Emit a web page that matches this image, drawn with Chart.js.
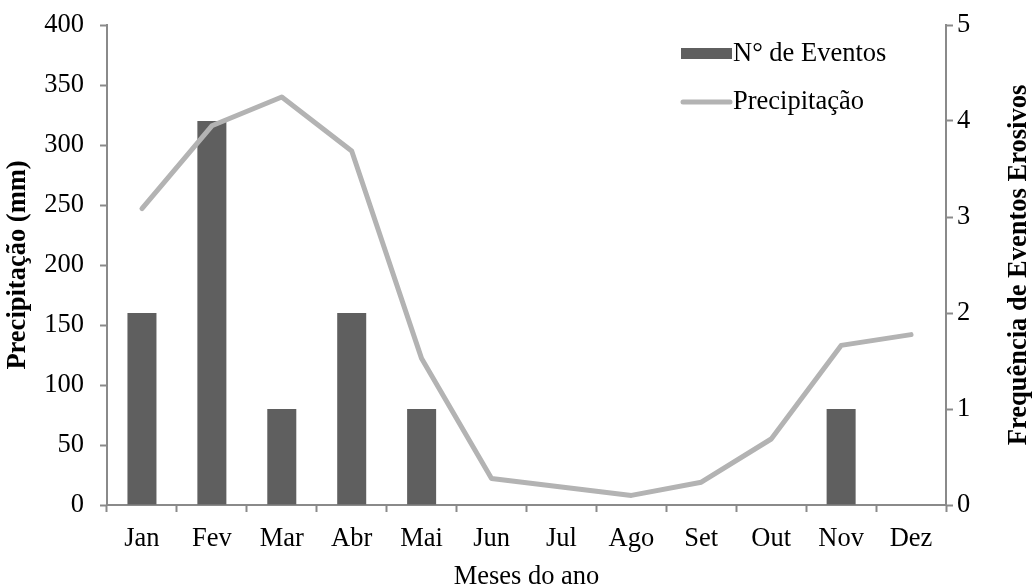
<!DOCTYPE html>
<html>
<head>
<meta charset="utf-8">
<script src="https://cdn.jsdelivr.net/npm/chart.js@4/dist/chart.umd.min.js"></script>
<style>
  html, body { margin: 0; padding: 0; background: #fff; }
  #wrap { width: 1032px; height: 586px; }
</style>
</head>
<body>
<div id="wrap"><canvas id="c" width="1032" height="586"></canvas></div>
<script>
// Monthly rainfall (mm) and number of erosive events
const meses = ['Jan', 'Fev', 'Mar', 'Abr', 'Mai', 'Jun', 'Jul', 'Ago', 'Set', 'Out', 'Nov', 'Dez'];
const precipitacao = [247, 316, 340, 295, 122, 22, 15, 8, 19, 55, 133, 142];
const eventos = [2, 4, 1, 2, 1, 0, 0, 0, 0, 0, 1, 0];
const ticksPrecipitacao = [0, 50, 100, 150, 200, 250, 300, 350, 400];
const ticksEventos = [0, 1, 2, 3, 4, 5];

const SERIF = '"Liberation Serif", "Times New Roman", serif';
const FS = 26.5;
const AXIS = '#8a8a8a';
const BAR = '#5f5f5f';
const LINE = '#b3b3b3';

// Legend in the upper right of the plot, plus the right-hand axis title read bottom-to-top
const extras = {
  id: 'extras',
  afterDraw(chart) {
    const ctx = chart.ctx;
    ctx.save();
    ctx.font = FS + 'px ' + SERIF;
    ctx.textBaseline = 'middle';
    ctx.textAlign = 'left';
    // bar swatch
    ctx.fillStyle = BAR;
    ctx.fillRect(681, 48, 51, 11);
    ctx.fillStyle = '#000';
    ctx.fillText(chart.data.datasets[0].label, 733, 54);
    // line swatch
    ctx.strokeStyle = LINE;
    ctx.lineWidth = 5;
    ctx.lineCap = 'round';
    ctx.beginPath();
    ctx.moveTo(683, 102);
    ctx.lineTo(730, 102);
    ctx.stroke();
    ctx.fillText(chart.data.datasets[1].label, 733, 102);

    // right axis title
    ctx.font = 'bold ' + FS + 'px ' + SERIF;
    ctx.textAlign = 'center';
    ctx.translate(1019, (chart.chartArea.top + chart.chartArea.bottom) / 2);
    ctx.rotate(-Math.PI / 2);
    ctx.fillText('Frequência de Eventos Erosivos', 0, 0);
    ctx.restore();
  }
};

// keep the plot box fixed regardless of label overhang
function noOverhang(s) {
  s.paddingTop = 0;
  s.paddingBottom = 0;
  s.paddingLeft = 0;
  s.paddingRight = 0;
}

new Chart(document.getElementById('c'), {
  data: {
    labels: meses,
    datasets: [
      {
        type: 'bar',
        label: 'N° de Eventos',
        data: eventos,
        yAxisID: 'y1',
        backgroundColor: BAR,
        borderWidth: 0,
        categoryPercentage: 1,
        barPercentage: 0.415,
        order: 2
      },
      {
        type: 'line',
        label: 'Precipitação',
        data: precipitacao,
        yAxisID: 'y',
        borderColor: LINE,
        borderWidth: 5,
        borderCapStyle: 'round',
        borderJoinStyle: 'round',
        pointRadius: 0,
        tension: 0,
        fill: false,
        order: 1
      }
    ]
  },
  options: {
    responsive: false,
    animation: false,
    events: [],
    layout: { padding: { top: 25, left: 0, right: 0, bottom: 0 } },
    plugins: {
      legend: { display: false },
      tooltip: { enabled: false }
    },
    scales: {
      x: {
        offset: true,
        grid: { offset: true, drawOnChartArea: false, color: AXIS, tickLength: 7, tickWidth: 2 },
        border: { color: AXIS, width: 2 },
        ticks: { color: '#000', font: { family: SERIF, size: FS }, padding: 11, maxRotation: 0, autoSkip: false },
        title: { display: true, text: 'Meses do ano', color: '#000', font: { family: SERIF, size: FS }, padding: { top: 0, bottom: -7 } },
        afterFit(s) { s.height = 81; noOverhang(s); }
      },
      y: {
        position: 'left',
        min: 0,
        max: 400,
        afterBuildTicks(s) { s.ticks = ticksPrecipitacao.map(v => ({ value: v })); },
        grid: { drawOnChartArea: false, color: AXIS, tickLength: 7, tickWidth: 2 },
        border: { color: AXIS, width: 2 },
        ticks: { color: '#000', font: { family: SERIF, size: FS }, padding: 16 },
        title: { display: true, text: 'Precipitação (mm)', color: '#000', font: { family: SERIF, size: FS, weight: 'bold' }, padding: { top: 2, bottom: 0 } },
        afterFit(s) { s.width = 107; noOverhang(s); }
      },
      y1: {
        position: 'right',
        min: 0,
        max: 5,
        afterBuildTicks(s) { s.ticks = ticksEventos.map(v => ({ value: v })); },
        grid: { drawOnChartArea: false, color: AXIS, tickLength: 7, tickWidth: 2 },
        border: { color: AXIS, width: 2 },
        ticks: { color: '#000', font: { family: SERIF, size: FS }, padding: 4 },
        title: { display: false },
        afterFit(s) { s.width = 86; noOverhang(s); }
      }
    }
  },
  plugins: [extras]
});
</script>
</body>
</html>
